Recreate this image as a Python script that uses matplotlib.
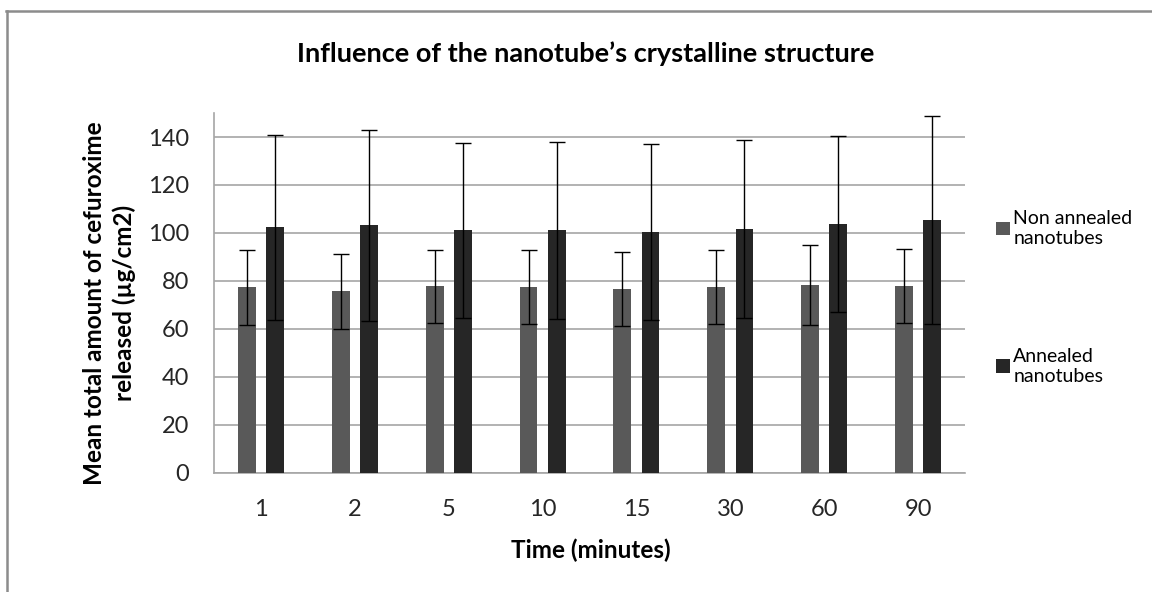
import numpy as np
import matplotlib.pyplot as plt
from matplotlib.lines import Line2D

times = ["1", "2", "5", "10", "15", "30", "60", "90"]
non_annealed = [77.3, 75.6, 77.7, 77.3, 76.7, 77.3, 78.3, 77.7]
non_annealed_err = [15.6, 15.5, 15.2, 15.4, 15.4, 15.4, 16.7, 15.4]
annealed = [102.3, 103.2, 101.1, 101.1, 100.6, 101.7, 103.7, 105.4]
annealed_err = [38.5, 39.8, 36.5, 36.8, 36.7, 37.0, 36.7, 43.4]

plt.rcParams['font.family'] = ['Lato', 'DejaVu Sans']

fig = plt.figure(figsize=(11.52, 5.92), dpi=100)
ax = fig.add_axes([0.1858, 0.2015, 0.6519, 0.6075])

x = np.arange(len(times))
w = 0.19
ax.bar(x - 0.15, non_annealed, w, color="#595959", label="Non annealed\nnanotubes", zorder=3)
ax.bar(x + 0.15, annealed, w, color="#262626", label="Annealed\nnanotubes", zorder=3)
ax.errorbar(x - 0.15, non_annealed, yerr=non_annealed_err, fmt="none", ecolor="black",
            elinewidth=1, capsize=5.5, capthick=1, zorder=4)
ax.errorbar(x + 0.15, annealed, yerr=annealed_err, fmt="none", ecolor="black",
            elinewidth=1, capsize=5.5, capthick=1, zorder=4)

ax.set_xlim(-0.5, len(times) - 0.5)
ax.set_ylim(0, 150)
ax.set_yticks(range(0, 141, 20))
ax.set_xticks(x)
ax.set_xticklabels(times)
ax.tick_params(axis="both", length=0, labelsize=17, colors="#262626")
ax.tick_params(axis="x", pad=19)
ax.tick_params(axis="y", pad=18)
ax.yaxis.grid(True, color="#a6a6a6", linewidth=1.2, zorder=0)
for s in ["top", "right"]:
    ax.spines[s].set_visible(False)
for s in ["left", "bottom"]:
    ax.spines[s].set_color("#a6a6a6")
    ax.spines[s].set_linewidth(1.2)

fig.text(0.513, 0.071, "Time (minutes)", ha="center", va="center",
         fontsize=17.5, fontweight="bold")
fig.text(0.095, 0.488, "Mean total amount of cefuroxime\nreleased (µg/cm2)", ha="center",
         va="center", rotation=90, fontsize=17.5, fontweight="bold", linespacing=1.3)
fig.text(0.508, 0.909, "Influence of the nanotube\u2019s crystalline structure",
         ha="center", va="center", fontsize=19.5, fontweight="bold")

fig.legend(loc="center left", bbox_to_anchor=(0.849, 0.498), frameon=False, fontsize=14,
           labelspacing=5.2, handlelength=0.72, handleheight=0.72, handletextpad=0.2)

# chart area outline (only top and left edges visible)
fig.add_artist(Line2D([6 / 1152, 1], [1 - 11 / 592] * 2, transform=fig.transFigure,
                      color="#8c8c8c", linewidth=1.8))
fig.add_artist(Line2D([7 / 1152] * 2, [0, 1 - 11 / 592], transform=fig.transFigure,
                      color="#8c8c8c", linewidth=1.8))

fig.savefig("out.png", dpi=100)
